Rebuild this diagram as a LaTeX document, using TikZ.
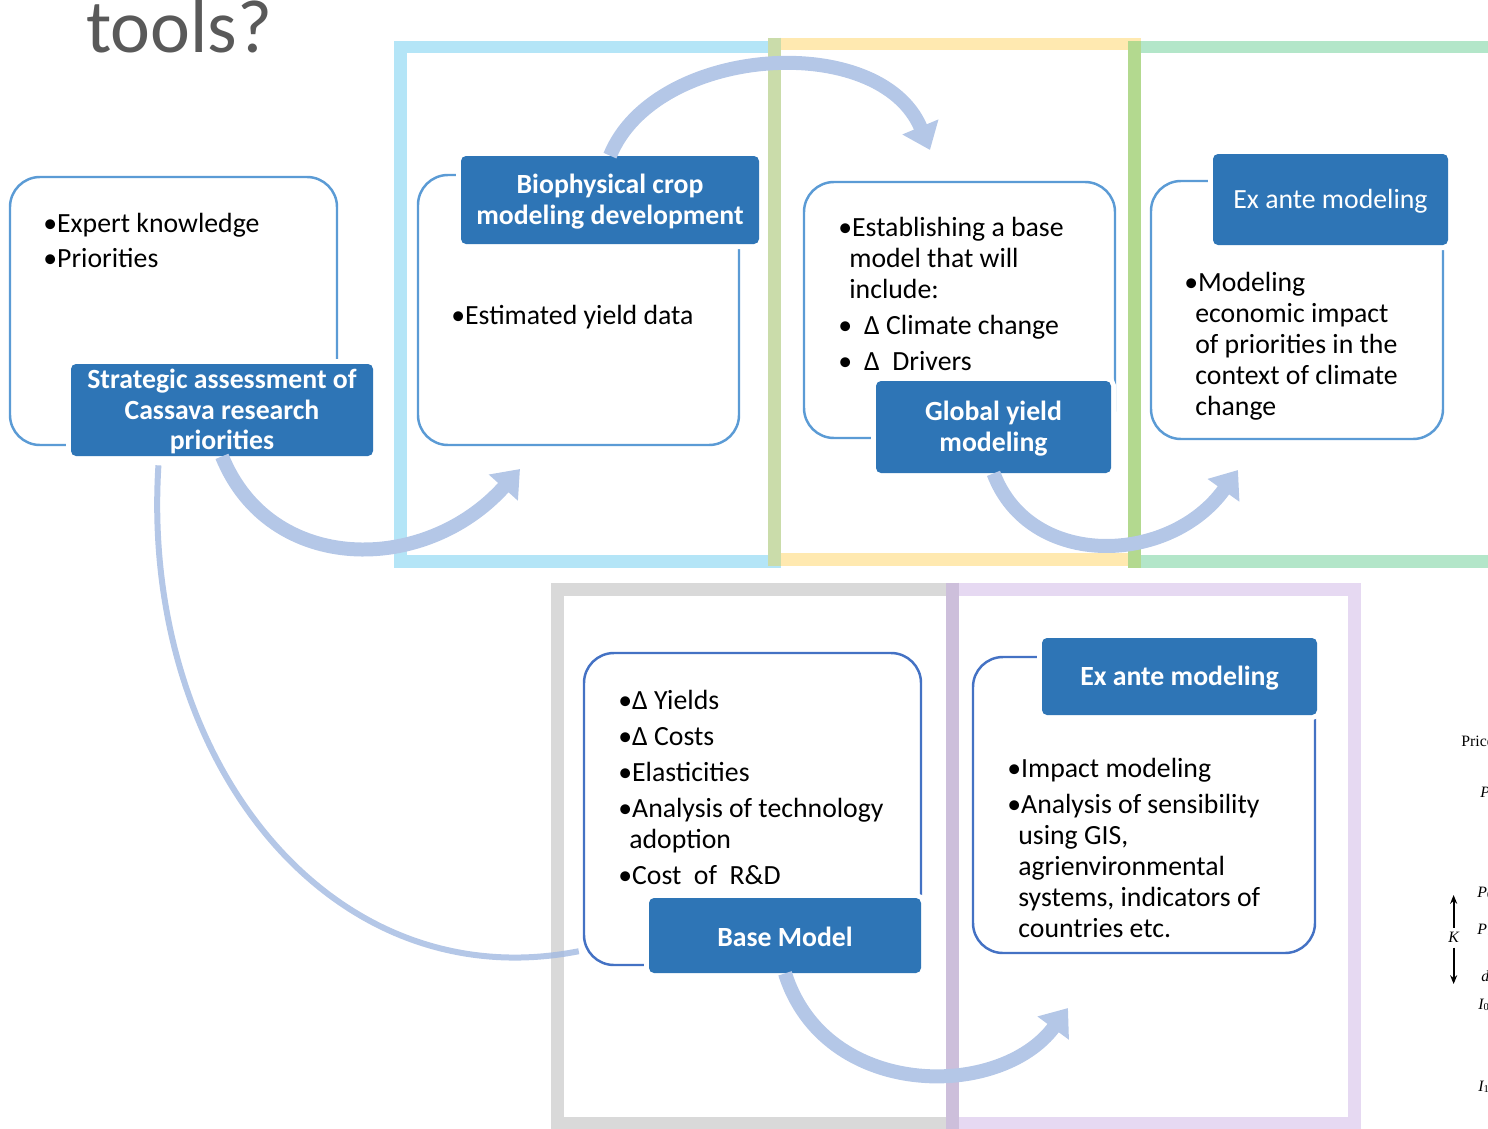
\documentclass[tikz,border=0pt]{standalone}
\usepackage{fontspec}
\setmainfont{Carlito}
\newfontfamily\serif{Liberation Serif}
\usetikzlibrary{positioning, arrows.meta, fit, calc}

\definecolor{tagblue}{HTML}{2E75B6}
\definecolor{lineblue}{HTML}{5B9BD5}
\definecolor{linedark}{HTML}{4472C4}
\definecolor{flowblue}{HTML}{B4C7E7}
\definecolor{linkblue}{HTML}{A1B9E1}
\definecolor{frblue}{HTML}{B4E5F7}
\definecolor{fryellow}{HTML}{FFE9B0}
\definecolor{frgreen}{HTML}{B3E6C9}
\definecolor{frolive}{HTML}{CADCAA}
\definecolor{frlime}{HTML}{B3D98F}
\definecolor{frgray}{HTML}{D9D9D9}
\definecolor{frpurple}{HTML}{E6D9F2}
\definecolor{frmauve}{HTML}{CDBFDB}
\definecolor{titlegray}{HTML}{595959}

\newcommand{\ind}{\hspace*{0.22cm}}

\begin{document}
\begin{tikzpicture}[
    x=0.02cm, y=-0.02cm,
    frame/.style={line width=0.26cm},
    panel/.style={draw=lineblue, line width=1.4pt, rounded corners=0.6cm, fill=white, inner sep=0pt},
    tag/.style={fill=tagblue, rounded corners=0.1cm, inner sep=0pt, preaction={draw=white, line width=0.2cm}},
    tagtext/.style={inner sep=0pt, text=white, align=center, font=\bfseries\fontsize{15.8}{17.4}\selectfont},
    body/.style={anchor=north west, inner sep=0pt, align=left, font=\fontsize{15.8}{17.6}\selectfont},
    flow/.style={draw=flowblue, line width=0.28cm, -{Triangle[length=0.5cm, width=0.75cm]}},
    link/.style={draw=linkblue, line width=0.12cm, opacity=0.8},
    fig/.style={inner sep=0pt, anchor=base west, font=\serif\fontsize{9}{10}\selectfont},
    tick/.style={-{Stealth[length=5pt, width=4pt]}, line width=1pt}
]
    \useasboundingbox (0,0) rectangle (1488,1129);

    % title
    \node[anchor=base west, inner sep=0pt, text=titlegray, font=\fontsize{43}{47}\selectfont] (title) at (86,52) {tools?};

    % coloured frames
    \draw[frame, frblue] (400,47) rectangle (774,561);
    \draw[frame, frgreen] (1134,47) rectangle (1520,561);
    \draw[frame, fryellow] (774,44) rectangle (1134,559);
    \draw[frame, frolive] (774,37.5) -- (774,566);
    \draw[frame, frlime] (1134,41) -- (1134,568);
    \draw[frame, frgray] (557,589) rectangle (952,1123);
    \draw[frame, frpurple] (952,589) rectangle (1354,1123);
    \draw[frame, frmauve] (952,582.5) -- (952,1129.5);

    % panels
    \node[panel, fit={(10,177) (337,445)}] (pA) {};
    \node[panel, fit={(418,175) (739,445)}] (pB) {};
    \node[panel, fit={(804,182) (1115,438)}] (pC) {};
    \node[panel, fit={(1151,181) (1443,439)}] (pD) {};
    \node[panel, draw=linedark, fit={(584,653) (921,965)}] (pE) {};
    \node[panel, draw=linedark, fit={(973,657) (1315,953)}] (pF) {};

    % labels
    \node[tag, fit={(71,364) (373,456)}] (strat) {};
    \node[tag, fit={(461,156) (759,244)}] (bio) {};
    \node[tag, fit={(876,381) (1111,473)}] (glob) {};
    \node[tag, fit={(1213,154) (1448,245)}] (exa1) {};
    \node[tag, fit={(649,898) (921,973)}] (bmod) {};
    \node[tag, fit={(1042,638) (1317,715)}] (exa2) {};
    \node[tagtext] at ([yshift=-1pt]strat.center) {Strategic assessment of\\Cassava research\\priorities};
    \node[tagtext] at ([yshift=-1pt]bio.center) {Biophysical crop\\modeling development};
    \node[tagtext] at ([yshift=-1pt]glob.center) {Global yield\\modeling};
    \node[tagtext, font=\fontsize{15.8}{17.4}\selectfont] at ([yshift=-1pt]exa1.center) {Ex ante modeling};
    \node[tagtext] at ([yshift=-1pt]bmod.center) {Base Model};
    \node[tagtext] at ([yshift=-1pt]exa2.center) {Ex ante modeling};

    % panel texts
    \node[body] (tA) at (43,213) {•Expert knowledge\\[0.08cm]•Priorities};
    \node[body] (tB) at (451,305) {•Estimated yield data};
    \node[body] (tC) at (838,217) {•Establishing a base\\\ind model that will\\\ind include:\\[0.1cm]
        •\hspace{0.24cm}Δ Climate change\\[0.1cm]•\hspace{0.24cm}Δ\ \ Drivers};
    \node[body] (tD) at (1184,272) {•Modeling\\\ind economic impact\\\ind of priorities in the\\\ind context of climate\\\ind change};
    \node[body] (tE) at (618,690) {•Δ Yields\\[0.1cm]•Δ Costs\\[0.1cm]•Elasticities\\[0.1cm]•Analysis of technology\\\ind adoption\\[0.1cm]•Cost\ \ of\ \ R\&D};
    \node[body] (tF) at (1007,758) {•Impact modeling\\[0.1cm]•Analysis of sensibility\\\ind using GIS,\\\ind agrienvironmental\\\ind systems, indicators of\\\ind countries etc.};

    % arrows
    \coordinate (a1) at (520,469);
    \coordinate (a2) at (930,150);
    \coordinate (a3) at (1238,470);
    \coordinate (a4) at (1068,1008);
    \draw[flow] (strat.south) .. controls (270,575) and (425,575) .. (a1);
    \draw[flow] (bio.north) .. controls (655,45) and (880,30) .. (a2);
    \draw[flow] (glob.south) .. controls (1030,570) and (1170,565) .. (a3);
    \draw[flow] (bmod.south) .. controls (825,1100) and (1000,1100) .. (a4);
    \draw[link] ($(strat.south west)!0.29!(strat.south east)+(0,9)$) .. controls (140,760) and (330,1000) .. ($(pE.south west)+(-4,-15)$);

    % cut-off figure at the right edge
    \node[fig] (price) at (1461,746) {Price};
    \node[fig] (pp) at (1480,797) {\itshape P};
    \node[fig] (p0) at (1477,897) {\itshape P\textsubscript{\upshape 0}};
    \node[fig] (p1) at (1477,934) {\itshape P\textsubscript{\upshape 1}};
    \node[fig] (kk) at (1448,942) {\itshape K};
    \node[fig] (dd) at (1481,981) {\itshape d};
    \node[fig] (i0) at (1478,1009) {\itshape I\textsubscript{\upshape 0}};
    \node[fig] (i1) at (1478,1091) {\itshape I\textsubscript{\upshape 1}};
    \coordinate (kup) at (1454,895);
    \coordinate (kdn) at (1454,984);
    \draw[tick] ([yshift=2pt]kk.north) -- (kk.north |- kup);
    \draw[tick] ([yshift=-3pt]kk.south) -- (kk.south |- kdn);
\end{tikzpicture}
\end{document}
